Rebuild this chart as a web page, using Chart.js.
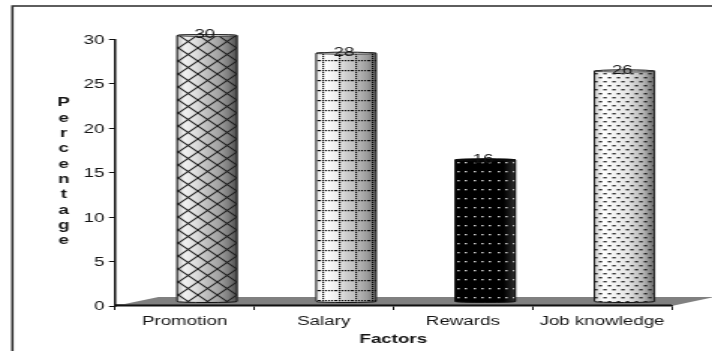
<!DOCTYPE html>
<html>
<head>
<meta charset="utf-8">
<style>
html,body{margin:0;padding:0;background:#fff;overflow:hidden}
</style>
<script src="https://cdn.jsdelivr.net/npm/chart.js@4"></script>
</head>
<body>
<canvas id="c" width="475" height="351" style="display:block;width:712px;height:351px"></canvas>
<script>
const categories = ['Promotion', 'Salary', 'Rewards', 'Job knowledge'];
const percentages = [30, 28, 16, 26];
const yTicks = [0, 5, 10, 15, 20, 25, 30];
const xTitle = 'Factors';
const yTitle = 'Percentage';

const FONT = '"Liberation Sans", Arial, sans-serif';
const INK = '#141414';
const DEPTH_X = 15, DEPTH_Y = 4;

function tile(w, h, draw) {
  const t = document.createElement('canvas');
  t.width = w; t.height = h;
  draw(t.getContext('2d'));
  return t;
}
const tiles = [
  tile(13, 13, g => {
    g.strokeStyle = 'rgba(30,30,30,1)'; g.lineWidth = 1.05;
    g.beginPath();
    g.moveTo(-1, -1); g.lineTo(14, 14);
    g.moveTo(14, -1); g.lineTo(-1, 14);
    g.stroke();
  }),
  tile(11, 10, g => {
    g.fillStyle = 'rgba(10,10,10,1)';
    for (let x = 0; x < 11; x += 2) g.fillRect(x, 4, 1.2, 1.2);
    for (let y = 0; y < 10; y += 2) g.fillRect(2, y, 1.2, 1.2);
  }),
  tile(16, 9, g => {
    g.fillStyle = '#c8c8c8';
    [2, 7, 13].forEach(x => g.fillRect(x, 4, 1.6, 1.3));
  }),
  tile(6, 8, g => {
    g.fillStyle = 'rgba(20,20,20,.9)';
    g.fillRect(0.5, 1, 2.2, 1.4);
    g.fillRect(3.5, 5, 2.2, 1.4);
  })
];
const shades = [
  [[0, '#b8b8b8'], [.12, '#f2f2f2'], [.32, '#dcdcdc'], [.5, '#bdbdbd'], [.7, '#a2a2a2'], [.86, '#7d7d7d'], [1, '#4c4c4c']],
  [[0, '#e8e8e8'], [.14, '#ffffff'], [.34, '#eeeeee'], [.5, '#cfcfcf'], [.68, '#bbbbbb'], [.86, '#9a9a9a'], [1, '#666666']],
  [[0, '#000000'], [.8, '#000000'], [1, '#303030']],
  [[0, '#cccccc'], [.15, '#ffffff'], [.55, '#e6e6e6'], [.82, '#b4b4b4'], [1, '#6a6a6a']]
];

const cylinderPlugin = {
  id: 'cylinder',
  beforeDraw(chart) {
    const { ctx, chartArea: a } = chart;
    ctx.save();
    ctx.strokeStyle = '#2a2a2a'; ctx.lineWidth = 1.6;
    ctx.beginPath();
    ctx.moveTo(8.3, 351); ctx.lineTo(8.3, 6); ctx.lineTo(475, 6);
    ctx.stroke();
    ctx.fillStyle = '#808080';
    ctx.beginPath();
    ctx.moveTo(a.left, a.bottom);
    ctx.lineTo(a.left + 29, a.bottom - 9);
    ctx.lineTo(a.right + 29, a.bottom - 9);
    ctx.lineTo(a.right, a.bottom);
    ctx.closePath();
    ctx.fill();
    ctx.fillStyle = '#444';
    ctx.fillRect(a.left, a.bottom - 2, a.right - a.left, 2);
    ctx.restore();
  },
  beforeDatasetsDraw(chart) {
    chart.ctx.save();
    chart.ctx.translate(DEPTH_X, -DEPTH_Y);
  },
  afterDatasetsDraw(chart) {
    const { ctx } = chart;
    chart.getDatasetMeta(0).data.forEach((bar, i) => {
      const l = bar.x - bar.width / 2, r = bar.x + bar.width / 2;
      const top = bar.y, base = bar.base, ry = 1;
      const shape = () => {
        ctx.beginPath();
        ctx.moveTo(l, top);
        ctx.lineTo(l, base);
        ctx.ellipse(bar.x, base, bar.width / 2, ry, 0, Math.PI, 0, true);
        ctx.lineTo(r, top);
        ctx.ellipse(bar.x, top, bar.width / 2, ry, 0, 0, Math.PI, true);
        ctx.closePath();
      };
      const grad = ctx.createLinearGradient(l, 0, r, 0);
      shades[i].forEach(s => grad.addColorStop(s[0], s[1]));
      shape(); ctx.fillStyle = grad; ctx.fill();
      ctx.save();
      shape(); ctx.clip();
      ctx.fillStyle = ctx.createPattern(tiles[i], 'repeat');
      ctx.fillRect(l, top - 3, bar.width, base - top + 6);
      ctx.restore();
      shape(); ctx.strokeStyle = '#111'; ctx.lineWidth = 1; ctx.stroke();
      ctx.beginPath();
      ctx.ellipse(bar.x, top, bar.width / 2, ry, 0, 0, Math.PI * 2);
      ctx.fillStyle = i === 2 ? '#000' : '#d4d4d4';
      ctx.fill(); ctx.lineWidth = .7; ctx.stroke();
      ctx.fillStyle = INK;
      ctx.font = '12.5px ' + FONT;
      ctx.textAlign = 'center';
      ctx.textBaseline = 'middle';
      ctx.fillText(String(percentages[i]), bar.x - 1.5, top - 0.5);
    });
    ctx.restore();
  },
  afterDraw(chart) {
    const { ctx } = chart;
    ctx.save();
    ctx.fillStyle = INK;
    ctx.font = 'bold 12.5px ' + FONT;
    ctx.textAlign = 'center';
    ctx.textBaseline = 'middle';
    [...yTitle].forEach((ch, i) => ctx.fillText(ch, 42.5, 103 + i * 15.3));
    ctx.restore();
  }
};

new Chart(document.getElementById('c'), {
  type: 'bar',
  data: {
    labels: categories,
    datasets: [{
      data: percentages,
      backgroundColor: ['#c0c0c0', '#dddddd', '#000000', '#e6e6e6'],
      barThickness: 40,
      clip: false
    }]
  },
  options: {
    responsive: false,
    animation: false,
    layout: { padding: { left: 0, top: 39.5, right: 27, bottom: 0 } },
    plugins: { legend: { display: false }, tooltip: { enabled: false } },
    scales: {
      x: {
        afterFit(s) { s.height = 45; },
        border: { color: '#111', width: 1.5 },
        grid: { drawOnChartArea: false, tickLength: 4, tickColor: '#111', tickWidth: 1 },
        ticks: { color: INK, padding: 4, maxRotation: 0, autoSkip: false, font: { family: FONT, size: 12.5 } },
        title: { display: true, text: xTitle, color: INK, padding: { top: 2, bottom: 4 }, font: { family: FONT, size: 12.5, weight: 'bold' } }
      },
      y: {
        min: 0,
        max: 30,
        afterFit(s) { s.width = 76.7; },
        afterBuildTicks(s) { s.ticks = yTicks.map(v => ({ value: v })); },
        border: { color: '#111', width: 1.5 },
        grid: { drawOnChartArea: false, tickLength: 4, tickColor: '#111', tickWidth: 1 },
        ticks: { color: INK, padding: 3, labelOffset: 1, font: { family: FONT, size: 12.5 } }
      }
    }
  },
  plugins: [cylinderPlugin]
});
</script>
</body>
</html>
